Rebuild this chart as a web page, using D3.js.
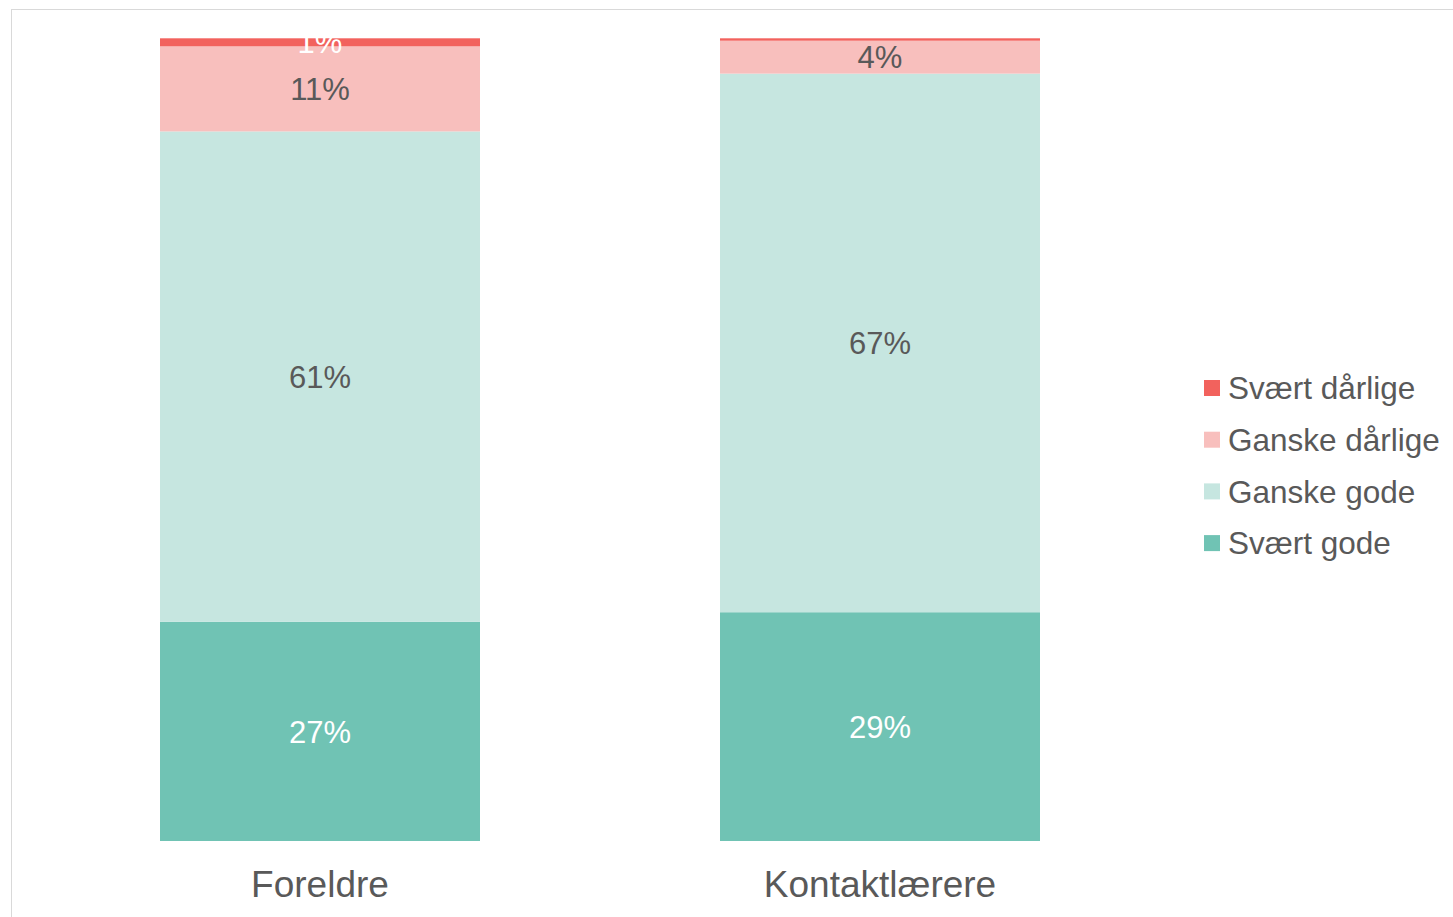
<!DOCTYPE html>
<head>
<meta charset="utf-8">
<title>Foreldre og kontaktlærere</title>
<script src="https://d3js.org/d3.v7.min.js" charset="utf-8"></script>
<style>
  body { margin: 0; background: #fff; }
  svg { display: block; }
</style>
</head>
<body>
<div id="chart"></div>
<script>

// data (percent)
const groups = ["Foreldre", "Kontaktlærere"];
const series = ["Svært gode", "Ganske gode", "Ganske dårlige", "Svært dårlige"];
const svaertGode = [27.3, 28.5];
const ganskeGode = [61.1, 67.1];
const ganskeDarlige = [10.6, 4.1];
const svaertDarlige = [1.0, 0.3];

const colors = ["#70c3b4", "#c6e6e0", "#f8bfbd", "#f2625d"];
const labelColors = ["#ffffff", "#595959", "#595959", "#ffffff"];

const W = 1453, H = 917;

function createSVG(){
  return d3.select("#chart").append("svg")
    .attr("width", W)
    .attr("height", H)
    .attr("font-family", "'Liberation Sans', Arial, sans-serif");
}

function drawChart(svg){
  // chart frame, only top and left edges are visible
  svg.append("rect")
    .attr("x", 11.5).attr("y", 9.5)
    .attr("width", 1600).attr("height", 1000)
    .attr("fill", "none")
    .attr("stroke", "#d9d9d9");

  const rows = groups.map((g, i) => ({
    group: g,
    "Svært gode": svaertGode[i],
    "Ganske gode": ganskeGode[i],
    "Ganske dårlige": ganskeDarlige[i],
    "Svært dårlige": svaertDarlige[i]
  }));

  const stacked = d3.stack().keys(series)(rows);

  const x = d3.scaleBand()
    .domain(groups)
    .range([40, 1160])
    .paddingInner(0.4286)
    .paddingOuter(0.2143);

  const y = d3.scaleLinear()
    .domain([0, 100])
    .range([841, 38.3]);

  const layer = svg.selectAll("g.layer")
    .data(stacked)
    .join("g")
      .attr("class", "layer")
      .attr("fill", (d, i) => colors[i]);

  layer.selectAll("rect")
    .data(d => d)
    .join("rect")
      .attr("x", d => x(d.data.group))
      .attr("width", x.bandwidth())
      .attr("y", d => y(d[1]))
      .attr("height", d => y(d[0]) - y(d[1]));

  // value labels
  const labels = svg.append("g")
    .attr("font-size", 31)
    .attr("text-anchor", "middle");

  stacked.forEach((s, si) => {
    labels.selectAll(null)
      .data(s.filter(d => d[1] - d[0] >= 0.5))
      .join("text")
        .attr("x", d => x(d.data.group) + x.bandwidth() / 2)
        .attr("y", d => y((d[0] + d[1]) / 2))
        .attr("dy", "0.36em")
        .attr("fill", labelColors[si])
        .text(d => Math.round(d[1] - d[0]) + "%");
  });

  // category axis
  const axis = svg.append("g")
    .attr("transform", "translate(0,841)")
    .call(d3.axisBottom(x).tickSize(0).tickPadding(0));
  axis.select(".domain").remove();
  axis.selectAll("text")
    .attr("font-family", "'Liberation Sans', Arial, sans-serif")
    .attr("font-size", 37)
    .attr("fill", "#595959")
    .attr("dy", "1.5em");

  // legend, top entry is the last series
  const legend = svg.append("g")
    .attr("transform", "translate(1204,388)");
  const item = legend.selectAll("g")
    .data(series.slice().reverse())
    .join("g")
      .attr("transform", (d, i) => `translate(0,${i * 51.7})`);
  item.append("rect")
    .attr("x", 0).attr("y", -8)
    .attr("width", 16).attr("height", 16)
    .attr("fill", d => colors[series.indexOf(d)]);
  item.append("text")
    .attr("x", 24)
    .attr("dy", "0.36em")
    .attr("font-size", 31.5)
    .attr("fill", "#595959")
    .text(d => d);
}

let svg = createSVG();
drawChart(svg);

</script>
</body>
</html>
